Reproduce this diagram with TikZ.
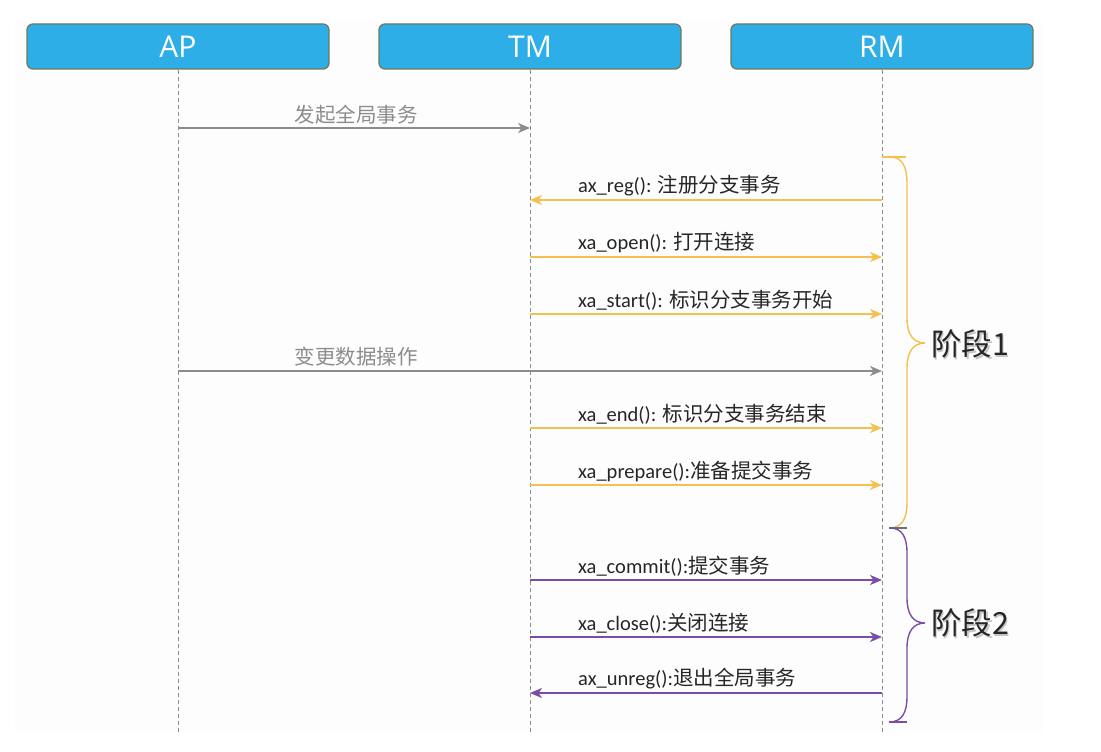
\documentclass[tikz,border=0pt]{standalone}
\usepackage{fontspec}
\setmainfont{Carlito}
\newfontfamily\cjk{Noto Sans CJK SC}
\newfontfamily\hdrfont{Open Sans}
\usetikzlibrary{arrows.meta}
\definecolor{hdr}{HTML}{2DAEE6}
\definecolor{hdrb}{HTML}{6E7B5E}
\definecolor{org}{HTML}{F4C04E}
\definecolor{pur}{HTML}{7A4EA6}
\definecolor{gry}{HTML}{8C8C8C}
\definecolor{txt}{HTML}{262626}
\definecolor{bgc}{HTML}{FDFDFD}
\newcommand\msgtext[2]{#1{\cjk #2}}
\tikzset{
  hdrbox/.style={draw=hdrb, fill=hdr, line width=1.3pt, rounded corners=6pt,
    minimum width=302pt, minimum height=45pt, text=white, inner sep=0pt,
    font=\fontsize{30}{32}\selectfont\hdrfont},
  life/.style={draw=gry, line width=0.9pt, dash pattern=on 4pt off 3pt},
  msg/.style={line width=1.4pt, -{Stealth[length=12pt,width=10pt,inset=3.5pt]}},
  lbl/.style={anchor=west, inner sep=0pt, text=txt, font=\fontsize{20.5}{24}\selectfont},
  glbl/.style={inner sep=0pt, text=gry, font=\fontsize{20.5}{24}\selectfont\cjk},
  phase/.style={anchor=west, inner sep=0pt, text=txt, font=\fontsize{30.5}{34}\selectfont\cjk},
  brc/.style={line width=1.4pt},
}
\begin{document}
\begin{tikzpicture}[x=1pt,y=-1pt]
\useasboundingbox (0,0) rectangle (1101,752);
\fill[bgc] (15,20) rectangle (1042,733);

% headers
\node[hdrbox] (AP) at (178,46.5) {AP};
\node[hdrbox] (TM) at (530,46.5) {TM};
\node[hdrbox] (RM) at (882,46.5) {RM};

% lifelines
\coordinate (APe) at (178,733);
\coordinate (TMe) at (530,733);
\coordinate (RMe) at (882,733);
\draw[life] (AP.south) -- (APe);
\draw[life] (TM.south) -- (TMe);
\draw[life] (RM.south) -- (RMe);

% message points
\foreach \n/\y in {1/128,5/371}{
  \coordinate (ap\n) at (178,\y);
}
\foreach \n/\y in {1/128,2/200,3/257,4/314,6/428,7/485,8/580,9/637,10/693}{
  \coordinate (tm\n) at (530,\y);
}
\foreach \n/\y in {2/200,3/257,4/314,5/371,6/428,7/485,8/580,9/637,10/693}{
  \coordinate (rm\n) at (882,\y);
}

% messages
\draw[msg, gry] (ap1) -- (tm1);
\node[glbl] (l1) at (356,115) {发起全局事务};

\draw[msg, org] (rm2) -- (tm2);
\node[lbl] (l2) at (578,186) {\msgtext{ax\_reg(): }{注册分支事务}};

\draw[msg, org] (tm3) -- (rm3);
\node[lbl] (l3) at (578,243) {\msgtext{xa\_open(): }{打开连接}};

\draw[msg, org] (tm4) -- (rm4);
\node[lbl] (l4) at (578,300) {\msgtext{xa\_start(): }{标识分支事务开始}};

\draw[msg, gry] (ap5) -- (rm5);
\node[glbl] (l5) at (356,357) {变更数据操作};

\draw[msg, org] (tm6) -- (rm6);
\node[lbl] (l6) at (578,414) {\msgtext{xa\_end(): }{标识分支事务结束}};

\draw[msg, org] (tm7) -- (rm7);
\node[lbl] (l7) at (578,471) {\msgtext{xa\_prepare():}{准备提交事务}};

\draw[msg, pur] (tm8) -- (rm8);
\node[lbl] (l8) at (578,566) {\msgtext{xa\_commit():}{提交事务}};

\draw[msg, pur] (tm9) -- (rm9);
\node[lbl] (l9) at (578,623) {\msgtext{xa\_close():}{关闭连接}};

\draw[msg, pur] (rm10) -- (tm10);
\node[lbl] (l10) at (578,679) {\msgtext{ax\_unreg():}{退出全局事务}};

% braces
\draw[brc, org] (882,157) -- (906,157);
\draw[brc, org] (890,157) .. controls (902,157) and (907,166) .. (907,184)
  -- (907,318) .. controls (907,334) and (913,343) .. (925,343)
  .. controls (913,343) and (907,352) .. (907,368)
  -- (907,502) .. controls (907,519) and (902,528) .. (889,528);
\draw[brc, gry!80!black] (889,528) -- (907,528);
\draw[brc, pur] (890,528) .. controls (902,528) and (907,537) .. (907,553)
  -- (907,598) .. controls (907,614) and (913,623) .. (925,623)
  .. controls (913,623) and (907,632) .. (907,648)
  -- (907,696) .. controls (907,713) and (902,722) .. (889,722);
\draw[brc, pur] (889,722) -- (907,722);

% phase labels
\node[phase, text=gray!45, xshift=1.5pt, yshift=-1.5pt] (p1s) at (931,344) {阶段1};
\node[phase] (p1) at (931,344) {阶段1};
\node[phase, text=gray!45, xshift=1.5pt, yshift=-1.5pt] (p2s) at (931,623) {阶段2};
\node[phase] (p2) at (931,623) {阶段2};
\end{tikzpicture}
\end{document}
